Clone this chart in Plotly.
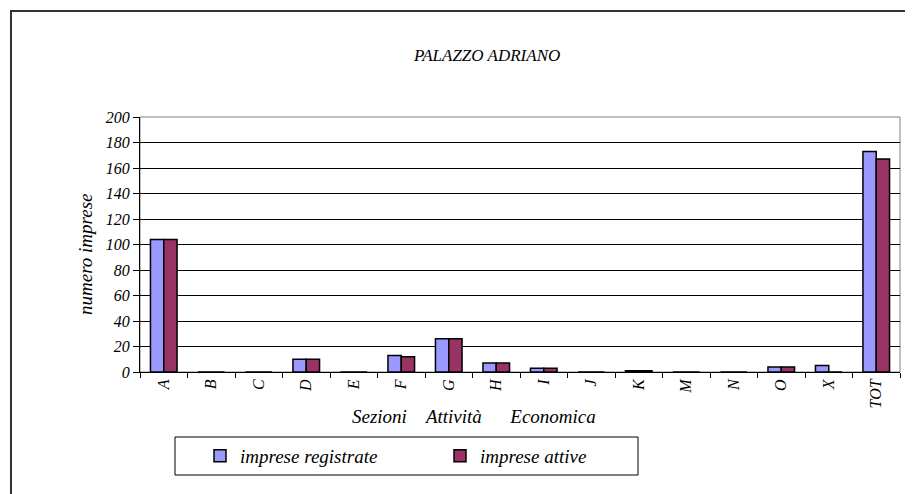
import plotly.graph_objects as go

categories = ["A", "B", "C", "D", "E", "F", "G", "H", "I", "J", "K", "M", "N", "O", "X", "TOT"]
registrate = [104, 0, 0, 10, 0, 13, 26, 7, 3, 0, 1, 0, 0, 4, 5, 173]
attive = [104, 0, 0, 10, 0, 12, 26, 7, 3, 0, 1, 0, 0, 4, 0, 167]
y_ticks = [0, 20, 40, 60, 80, 100, 120, 140, 160, 180, 200]

OFF = 8  # page body margin
W, H = 913 - OFF, 494 - OFF
L, R, T, B = 140 - OFF, 13, 117 - OFF, 122
pw, ph = W - L - R, H - T - B

def px_x(x):
    return (x - OFF - L) / pw

def px_y(y):
    return (H - B - (y - OFF)) / ph

FONT = "Liberation Serif"

def fnt(size):
    return dict(family=FONT, size=size, style="italic", color="black")

fig = go.Figure()
fig.add_trace(go.Bar(x=categories, y=registrate, name="imprese registrate",
                     marker=dict(color="#9999FF", line=dict(color="black", width=1.5))))
fig.add_trace(go.Bar(x=categories, y=attive, name="imprese attive",
                     marker=dict(color="#993366", line=dict(color="black", width=1.5))))

fig.update_layout(
    width=W, height=H,
    margin=dict(l=L, r=R, t=T, b=B),
    paper_bgcolor="white", plot_bgcolor="white",
    barmode="group", bargap=0.44, bargroupgap=0,
    font=fnt(16),
    showlegend=True,
    legend=dict(orientation="h", x=px_x(200), xanchor="left", y=px_y(456), yanchor="middle",
                font=fnt(19),
                entrywidth=195, entrywidthmode="pixels",
                bgcolor="rgba(0,0,0,0)", borderwidth=0),
    xaxis=dict(type="category", tickangle=-90, ticks="outside", tickson="boundaries",
               ticklen=5, tickcolor="black", showline=True, linecolor="black", linewidth=1,
               tickfont=fnt(16), showgrid=False),
    yaxis=dict(range=[0, 200], tickvals=y_ticks, ticks="outside", ticklen=6, tickcolor="black",
               showline=True, linecolor="black", linewidth=1, showgrid=True,
               gridcolor="black", gridwidth=1, zeroline=False,
               tickfont=fnt(16)),
)

fig.add_annotation(text="PALAZZO ADRIANO", xref="paper", yref="paper",
                   x=px_x(486), y=px_y(44), showarrow=False, font=fnt(17))
fig.add_annotation(text="numero imprese", xref="paper", yref="paper",
                   x=px_x(85), y=px_y(254), xanchor="center", yanchor="middle",
                   textangle=-90, showarrow=False, font=fnt(19))
fig.add_annotation(text="Sezioni&nbsp;&nbsp;&nbsp;&nbsp;Attività&nbsp;&nbsp;&nbsp;&nbsp;&nbsp;&nbsp;Economica",
                   xref="paper", yref="paper", x=px_x(474), y=px_y(416),
                   xanchor="center", yanchor="middle", showarrow=False, font=fnt(19))

# plot area border (gray)
fig.add_shape(type="rect", xref="paper", yref="paper", x0=0, x1=1, y0=0, y1=1,
              line=dict(color="#808080", width=1), layer="below")
# legend box
fig.add_shape(type="rect", xref="paper", yref="paper",
              x0=px_x(175), x1=px_x(638), y0=px_y(475), y1=px_y(437),
              line=dict(color="black", width=1))
# outer chart frame
fig.add_shape(type="rect", xref="paper", yref="paper",
              x0=px_x(11), x1=px_x(930), y0=px_y(520), y1=px_y(11),
              line=dict(color="#333333", width=2))

fig.write_html("out.html")
